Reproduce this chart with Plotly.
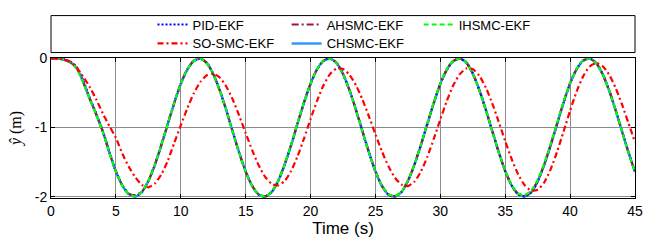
import plotly.graph_objects as go

time_s = [i * 0.5 for i in range(91)]

ihsmc = [0, -0.004, -0.02, -0.06, -0.15, -0.36, -0.60, -0.82, -1.07, -1.37,
         -1.64, -1.845, -1.965, -1.995, -1.93, -1.77, -1.535, -1.25, -0.94, -0.635,
         -0.365, -0.16, -0.035, -0.005, -0.07, -0.23, -0.465, -0.75, -1.065, -1.37,
         -1.64, -1.845, -1.97, -1.998, -1.93, -1.77, -1.535, -1.25, -0.935, -0.63,
         -0.36, -0.155, -0.03, -0.003, -0.07, -0.23, -0.465, -0.75, -1.06, -1.365,
         -1.635, -1.845, -1.965, -1.995, -1.93, -1.77, -1.535, -1.25, -0.94, -0.635,
         -0.365, -0.16, -0.035, -0.005, -0.065, -0.225, -0.46, -0.745, -1.055, -1.36,
         -1.63, -1.835, -1.955, -1.975, -1.915, -1.76, -1.525, -1.24, -0.93, -0.625,
         -0.355, -0.15, -0.03, -0.003, -0.07, -0.23, -0.465, -0.75, -1.06, -1.37,
         -1.645]

chsmc = [0, -0.004, -0.02, -0.058, -0.145, -0.35, -0.59, -0.815, -1.06, -1.36,
         -1.635, -1.84, -1.965, -1.998, -1.935, -1.775, -1.545, -1.26, -0.95, -0.645,
         -0.37, -0.165, -0.04, -0.004, -0.065, -0.225, -0.46, -0.745, -1.06, -1.365,
         -1.635, -1.845, -1.97, -2.0, -1.935, -1.775, -1.54, -1.26, -0.945, -0.64,
         -0.37, -0.16, -0.035, -0.003, -0.065, -0.225, -0.46, -0.745, -1.055, -1.36,
         -1.635, -1.845, -1.97, -2.0, -1.935, -1.775, -1.54, -1.26, -0.95, -0.645,
         -0.37, -0.165, -0.04, -0.004, -0.06, -0.22, -0.455, -0.74, -1.05, -1.355,
         -1.63, -1.84, -1.965, -2.0, -1.94, -1.78, -1.545, -1.26, -0.95, -0.64,
         -0.365, -0.16, -0.035, -0.003, -0.065, -0.225, -0.46, -0.745, -1.055, -1.36,
         -1.64]

pid = [0, -0.003, -0.015, -0.05, -0.13, -0.33, -0.58, -0.81, -1.06, -1.36,
       -1.635, -1.84, -1.965, -1.995, -1.935, -1.775, -1.54, -1.255, -0.945, -0.64,
       -0.365, -0.16, -0.035, -0.002, -0.065, -0.225, -0.46, -0.745, -1.06, -1.365,
       -1.635, -1.845, -1.97, -1.998, -1.935, -1.775, -1.54, -1.255, -0.94, -0.635,
       -0.365, -0.16, -0.033, -0.002, -0.065, -0.225, -0.46, -0.745, -1.055, -1.36,
       -1.635, -1.845, -1.97, -1.998, -1.935, -1.775, -1.54, -1.255, -0.945, -0.64,
       -0.37, -0.165, -0.038, -0.003, -0.06, -0.22, -0.455, -0.74, -1.05, -1.355,
       -1.63, -1.84, -1.965, -1.995, -1.94, -1.78, -1.54, -1.255, -0.945, -0.635,
       -0.36, -0.155, -0.033, -0.002, -0.065, -0.225, -0.46, -0.745, -1.055, -1.36,
       -1.64]

ahsmc = [0, -0.004, -0.02, -0.06, -0.15, -0.355, -0.595, -0.82, -1.065, -1.365,
         -1.635, -1.84, -1.955, -1.975, -1.93, -1.775, -1.54, -1.255, -0.945, -0.64,
         -0.365, -0.16, -0.035, -0.004, -0.068, -0.228, -0.462, -0.748, -1.062, -1.368,
         -1.638, -1.843, -1.968, -1.995, -1.932, -1.772, -1.538, -1.252, -0.938, -0.632,
         -0.362, -0.157, -0.032, -0.003, -0.068, -0.228, -0.462, -0.748, -1.058, -1.362,
         -1.632, -1.843, -1.967, -1.995, -1.932, -1.772, -1.538, -1.252, -0.942, -0.637,
         -0.367, -0.162, -0.037, -0.004, -0.063, -0.223, -0.458, -0.743, -1.053, -1.358,
         -1.63, -1.838, -1.96, -1.985, -1.925, -1.77, -1.535, -1.25, -0.94, -0.632,
         -0.36, -0.155, -0.032, -0.003, -0.068, -0.228, -0.462, -0.748, -1.058, -1.365,
         -1.642]

sosmc = [0, -0.003, -0.015, -0.05, -0.14, -0.27, -0.42, -0.60, -0.80, -0.98,
         -1.15, -1.38, -1.57, -1.72, -1.83, -1.865, -1.81, -1.68, -1.48, -1.222,
         -0.969, -0.724, -0.507, -0.344, -0.245, -0.222, -0.277, -0.406, -0.596, -0.828,
         -1.081, -1.328, -1.546, -1.714, -1.815, -1.838, -1.775, -1.629, -1.415, -1.156,
         -0.879, -0.614, -0.389, -0.228, -0.147, -0.154, -0.238, -0.390, -0.597, -0.841,
         -1.098, -1.346, -1.561, -1.726, -1.825, -1.848, -1.785, -1.638, -1.423, -1.162,
         -0.884, -0.617, -0.390, -0.228, -0.147, -0.156, -0.250, -0.421, -0.651, -0.918,
         -1.197, -1.459, -1.679, -1.835, -1.913, -1.902, -1.796, -1.605, -1.349, -1.056,
         -0.756, -0.481, -0.261, -0.119, -0.07, -0.112, -0.234, -0.425, -0.667, -0.939,
         -1.215]

x_ticks = [0, 5, 10, 15, 20, 25, 30, 35, 40, 45]
x_tick_text = ["0", "5", "10", "15", "20", "25", "30", "35", "40", "45"]
y_ticks = [0, -1, -2]
y_tick_text = ["0", "-1", "-2"]

FONT = "Liberation Sans, Arial, sans-serif"

fig = go.Figure()

def add(name, y, color, dash, width, legend):
    fig.add_trace(go.Scatter(
        x=time_s, y=y, name=name, mode="lines",
        line=dict(color=color, dash=dash, width=width, shape="spline", smoothing=0.6),
        legend=legend))

add("CHSMC-EKF", chsmc, "#3399FF", "solid", 2.5, "legend5")
add("PID-EKF", pid, "#0000FF", "2px,2px", 2.2, "legend")
add("AHSMC-EKF", ahsmc, "#A2142F", "7px,3px,2px,3px", 2, "legend2")
add("IHSMC-EKF", ihsmc, "#00FF00", "5px,3px", 2.2, "legend3")
add("SO-SMC-EKF", sosmc, "#FF0000", "6px,3px,2px,3px", 2.2, "legend4")

leg_common = dict(orientation="h", xanchor="left", yanchor="top",
                  font=dict(family=FONT, size=13, color="#000"),
                  bgcolor="rgba(0,0,0,0)", borderwidth=0)

col_x = [0.1738, 0.4035, 0.6296]
row_y = [1.346, 1.211]

fig.update_layout(
    width=646, height=242,
    margin=dict(l=51.3, r=11, t=57.5, b=44.3, autoexpand=False),
    paper_bgcolor="white", plot_bgcolor="white",
    font=dict(family=FONT, size=14, color="#000"),
    legend=dict(x=col_x[0], y=row_y[0], **leg_common),
    legend2=dict(x=col_x[1], y=row_y[0], **leg_common),
    legend3=dict(x=col_x[2], y=row_y[0], **leg_common),
    legend4=dict(x=col_x[0], y=row_y[1], **leg_common),
    legend5=dict(x=col_x[1], y=row_y[1], **leg_common),
    xaxis=dict(range=[0, 45], tickvals=x_ticks, ticktext=x_tick_text,
               showgrid=True, gridcolor="#8c8c8c", gridwidth=1,
               showline=True, linecolor="#000", linewidth=1, mirror="ticks",
               ticks="inside", ticklen=4, tickcolor="#000",
               zeroline=False, tickfont=dict(size=14), automargin=False,
               title=dict(text="Time (s)", font=dict(size=17), standoff=4)),
    yaxis=dict(range=[-2.02, 0.005], tickvals=y_ticks, ticktext=y_tick_text,
               showgrid=True, gridcolor="#8c8c8c", gridwidth=1,
               showline=True, linecolor="#000", linewidth=1, mirror="ticks",
               ticks="inside", ticklen=4, tickcolor="#000",
               zeroline=False, tickfont=dict(size=14), automargin=False,
               title=dict(text="<i>ŷ</i> (m)",
                          font=dict(family="Liberation Serif, Times New Roman, serif", size=16),
                          standoff=9)),
    shapes=[dict(type="rect", xref="paper", yref="paper",
                 x0=0, x1=1, y0=1.039, y1=1.303,
                 line=dict(color="#000", width=1), fillcolor="rgba(0,0,0,0)")],
    showlegend=True,
)

fig.write_html("out.html", config={"displayModeBar": False},
               post_script="document.body.style.margin='0';document.body.style.padding='0';")
